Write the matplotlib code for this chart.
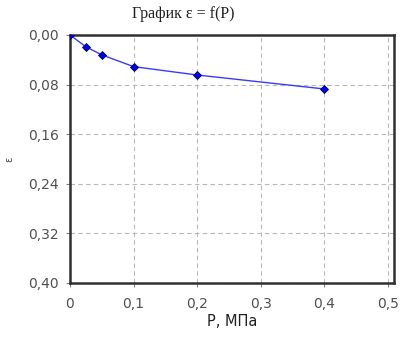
import matplotlib.pyplot as plt
import numpy as np

# давление, МПа и коэффициент пористости
p = [0.0, 0.025, 0.05, 0.1, 0.2, 0.4]
eps = [0.0, 0.019, 0.032, 0.051, 0.0645, 0.087]

x_ticks = [0, 0.1, 0.2, 0.3, 0.4, 0.5]
x_labels = ['0', '0,1', '0,2', '0,3', '0,4', '0,5']
y_ticks = [0.0, 0.08, 0.16, 0.24, 0.32, 0.40]
y_labels = ['0,00', '0,08', '0,16', '0,24', '0,32', '0,40']

fig = plt.figure(figsize=(4.06, 3.38), dpi=100)
ax = fig.add_axes([70 / 406, 55 / 338, 324 / 406, 248 / 338])

ax.plot(p, eps, color='#3a3aff', linewidth=1.0, zorder=3)
ax.plot(p, eps, linestyle='none', marker='D', markersize=4.5,
        color='#0000e0', markeredgecolor='#000080', markeredgewidth=0.6, zorder=4)

ax.set_xlim(0, 0.51)
ax.set_ylim(0.40, 0.0)
ax.set_xticks(x_ticks)
ax.set_xticklabels(x_labels)
ax.set_yticks(y_ticks)
ax.set_yticklabels(y_labels)

ax.grid(True, color='#b8b8b8', linestyle=(0, (4, 3)), linewidth=0.8)
for s in ax.spines.values():
    s.set_color('#303030')
    s.set_linewidth(1.8)

ax.tick_params(axis='both', direction='out', length=3, width=0.8,
               color='#808080', labelsize=10, labelcolor='#505050')
ax.tick_params(axis='x', pad=7)
ax.tick_params(axis='y', pad=5)

ax.set_xlabel('Р, МПа', fontsize=10.5, color='#202020', labelpad=2)
ax.set_ylabel('ε', fontsize=7, color='#404040', labelpad=10, rotation=90)
fig.text(183 / 406, 1 - 14 / 338, 'График ε = f(P)', fontsize=11.5,
         family='Liberation Serif', color='#202020', ha='center', va='center')

fig.savefig('out.png', dpi=100)
